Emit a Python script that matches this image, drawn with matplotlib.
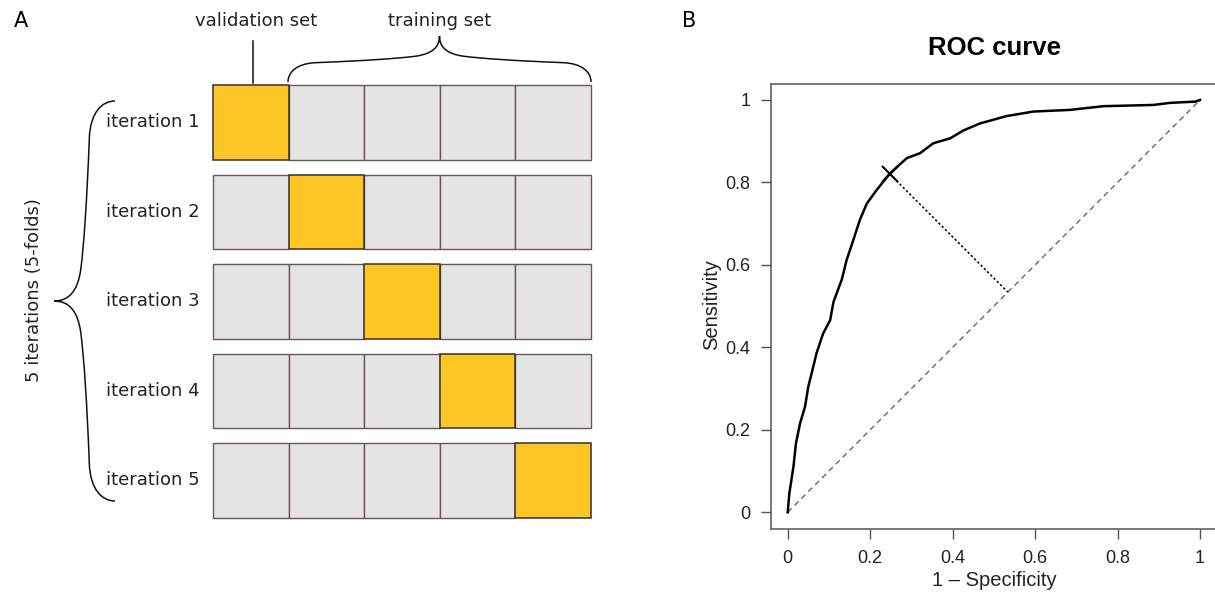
import matplotlib
matplotlib.use("Agg")
import matplotlib.pyplot as plt
from matplotlib.patches import Rectangle, PathPatch
from matplotlib.path import Path

# panel A: 5-fold cross-validation scheme
iterations = ["iteration 1", "iteration 2", "iteration 3", "iteration 4", "iteration 5"]
n_folds = 5
validation_fold = [0, 1, 2, 3, 4]

# panel B: ROC curve
fpr = [0, 0.004, 0.014, 0.020, 0.030, 0.042, 0.050, 0.062, 0.070, 0.086,
       0.103, 0.111, 0.131, 0.143, 0.159, 0.175, 0.192, 0.216, 0.248, 0.289,
       0.321, 0.353, 0.394, 0.426, 0.466, 0.531, 0.596, 0.685, 0.766, 0.887,
       0.927, 0.988, 1.0]
tpr = [0, 0.046, 0.111, 0.167, 0.216, 0.256, 0.305, 0.353, 0.386, 0.434,
       0.466, 0.510, 0.564, 0.612, 0.660, 0.709, 0.749, 0.782, 0.822, 0.859,
       0.871, 0.895, 0.907, 0.926, 0.943, 0.961, 0.972, 0.976, 0.985, 0.988,
       0.993, 0.996, 1.0]
best_fpr, best_tpr = 0.248, 0.820
ticks = [0, 0.2, 0.4, 0.6, 0.8, 1]
tick_labels = ["0", "0.2", "0.4", "0.6", "0.8", "1"]

W, H = 1215, 598
fig = plt.figure(figsize=(W / 100, H / 100), dpi=100)

# pixel-space axes for the diagram
ax = fig.add_axes([0, 0, 1, 1])
ax.set_xlim(0, W)
ax.set_ylim(H, 0)
ax.axis("off")

box_left, box_right = 213, 591
row_top0, row_h, row_pitch = 85, 74.5, 89.5
cell_w = (box_right - box_left) / n_folds
grey, yellow = "#e4e4e4", "#fdc626"

for i, label in enumerate(iterations):
    top = row_top0 + i * row_pitch
    for j in range(n_folds):
        if j == validation_fold[i]:
            continue
        ax.add_patch(Rectangle((box_left + j * cell_w, top), cell_w, row_h,
                               facecolor=grey, edgecolor="#6e5656", lw=1.0))
    j = validation_fold[i]
    ax.add_patch(Rectangle((box_left + j * cell_w, top), cell_w, row_h,
                           facecolor=yellow, edgecolor="#33302a", lw=1.1, zorder=3))
    ax.text(200, top + row_h / 2, label, ha="right", va="center", fontsize=13,
            color="#222222")


def brace(x0, y0, length, depth, vertical):
    # half shape in (u along, v across) units, then mirrored
    half = [(0, 0), (0, 0.22), (0.03, 0.40), (0.09, 0.42),
            (0.25, 0.46), (0.36, 0.51), (0.42, 0.56),
            (0.475, 0.61), (0.5, 0.75), (0.5, 1.0)]
    codes = [Path.MOVETO] + [Path.CURVE4] * 9
    other = [(1 - u, v) for u, v in half[::-1]][1:]
    pts = half + other
    if vertical:
        verts = [(x0 - v * depth, y0 + u * length) for u, v in pts]
    else:
        verts = [(x0 + u * length, y0 - v * depth) for u, v in pts]
    ax.add_patch(PathPatch(Path(verts, codes + [Path.CURVE4] * 9), facecolor="none",
                           edgecolor="#111111", lw=1.1))


brace(288, 82, 303, 46, vertical=False)
brace(115, 101, 400, 61, vertical=True)
ax.plot([252.5, 252.5], [41, 83], color="#111111", lw=1.1)

ax.text(256, 21, "validation set", ha="center", va="center", fontsize=13, color="#222222")
ax.text(440, 21, "training set", ha="center", va="center", fontsize=13, color="#222222")
ax.text(34, 290, "5 iterations (5-folds)", ha="center", va="center", fontsize=13,
        rotation=90, color="#222222")
ax.text(21, 21, "A", ha="center", va="center", fontsize=15)
ax.text(689, 21, "B", ha="center", va="center", fontsize=15)

# ROC axes, R style with 4% padding
helv = "Liberation Sans"
l, r, t, b = 771.2, 1216.5, 83.5, 528.8
ax2 = fig.add_axes([l / W, 1 - b / H, (r - l) / W, (b - t) / H])
ax2.set_xlim(-0.04, 1.04)
ax2.set_ylim(-0.04, 1.04)
ax2.plot([0, 1], [0, 1], color="#666666", lw=1.0, ls=(0, (4, 3)))
ax2.plot([best_fpr, (best_fpr + best_tpr) / 2], [best_tpr, (best_fpr + best_tpr) / 2],
         color="black", lw=1.1, ls=(0, (1.5, 1.5)))
ax2.plot(fpr, tpr, color="black", lw=1.8)
ax2.plot([best_fpr], [best_tpr], marker="x", color="black", ms=12, mew=1.5)
ax2.set_xticks(ticks)
ax2.set_xticklabels(tick_labels)
ax2.set_yticks(ticks)
ax2.set_yticklabels(tick_labels)
for s in ax2.spines.values():
    s.set_color("#555555")
    s.set_linewidth(1.1)
ax2.tick_params(direction="out", length=7, width=1.0, color="#555555",
                labelsize=13, pad=8)
for lab in ax2.get_xticklabels() + ax2.get_yticklabels():
    lab.set_fontfamily(helv)
    lab.set_color("#222222")

fig.text(994 / W, 1 - 48 / H, "ROC curve", ha="center", va="center", fontsize=18.5,
         fontweight="bold", family=helv)
fig.text(994 / W, 1 - 581 / H, "1 \u2013 Specificity", ha="center", va="center",
         fontsize=14.5, family=helv, color="#222222")
fig.text(712 / W, 1 - 305 / H, "Sensitivity", ha="center", va="center", rotation=90,
         fontsize=14.5, family=helv, color="#222222")

fig.savefig("out.png", dpi=100)
